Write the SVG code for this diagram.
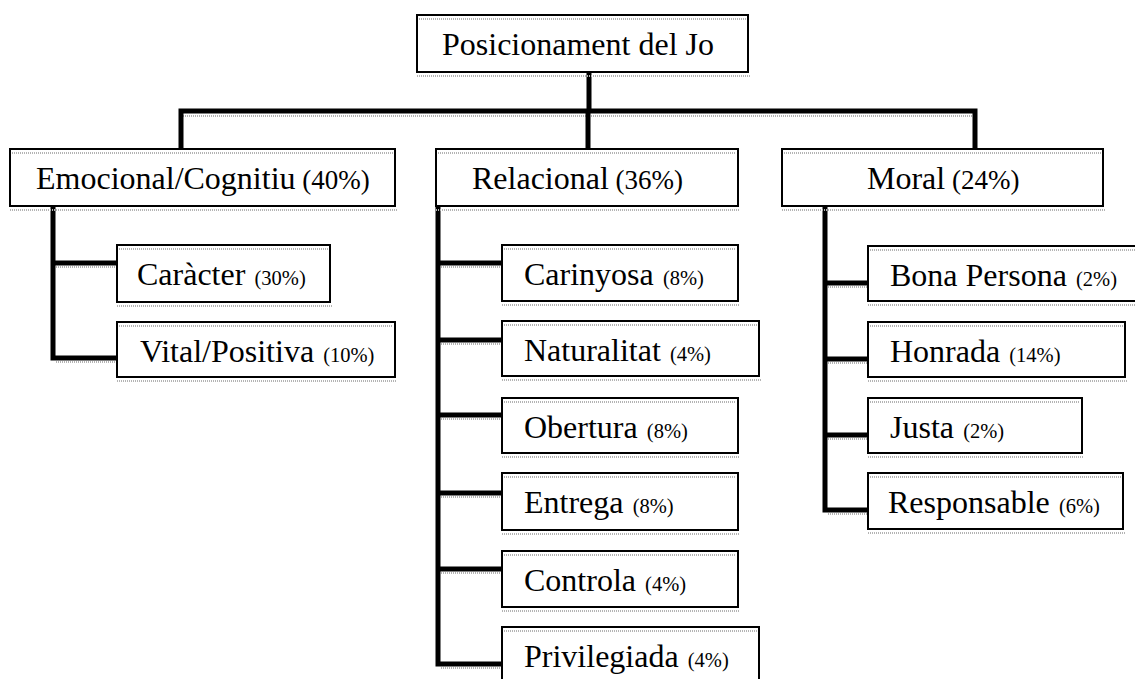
<svg xmlns="http://www.w3.org/2000/svg" width="1135" height="679" viewBox="0 0 1135 679">
<style>
.box{fill:#fff;stroke:#000;stroke-width:2}
.sh{stroke:#b4b4b4;stroke-width:2;stroke-dasharray:1 1;fill:none}
.con{stroke:#000;stroke-width:5;fill:none;stroke-linejoin:miter;stroke-linecap:square}
text{font-family:"Liberation Serif","Times New Roman",serif;font-size:32px;fill:#000}
.p1{font-size:27px}
.p2{font-size:20.5px}
</style>
<rect width="1135" height="679" fill="#fff"/>
<g id="connectors">
<path class="sh" d="M183 116H975M56 267H117M56 362H117M441 267H502M441 344H502M441 419H502M441 497H502M441 573H502M441 668H502M828 287H868M828 363H868M828 439H868M828 514H868"/>
<path class="con" d="M589 72V111M181 149V111H975V149M588 111V150"/>
<path class="con" d="M53 206V358H117M53 263H117"/>
<path class="con" d="M438 205V664H502M438 263H502M438 340H502M438 415H502M438 493H502M438 569H502"/>
<path class="con" d="M825 206V510H868M825 283H868M825 359H868M825 435H868"/>
</g>
<g id="n-root"><rect class="box" x="417" y="15" width="331" height="57"/><path class="sh" d="M419 19H746M417 76H750"/><text x="442" y="55">Posicionament del Jo</text></g>
<g id="n-emocional"><rect class="box" x="10" y="149" width="385" height="57"/><path class="sh" d="M12 153H393M10 210H397"/><text x="36" y="189">Emocional/Cognitiu<tspan class="p1"> (40%)</tspan></text></g>
<g id="n-relacional"><rect class="box" x="436" y="149" width="302" height="57"/><path class="sh" d="M438 153H736M436 210H740"/><text x="472" y="189">Relacional<tspan class="p1"> (36%)</tspan></text></g>
<g id="n-moral"><rect class="box" x="782" y="149" width="321" height="57"/><path class="sh" d="M784 153H1101M782 210H1105"/><text x="867" y="189">Moral<tspan class="p1"> (24%)</tspan></text></g>
<g id="n-caracter"><rect class="box" x="117" y="245" width="213" height="57"/><path class="sh" d="M119 249H328M117 306H332"/><text x="137" y="285">Caràcter<tspan class="p2" dx="4"> (30%)</tspan></text></g>
<g id="n-vital"><rect class="box" x="117" y="322" width="278" height="55"/><path class="sh" d="M119 326H393M117 381H397"/><text x="140" y="362">Vital/Positiva<tspan class="p2" dx="4"> (10%)</tspan></text></g>
<g id="n-carinyosa"><rect class="box" x="502" y="245" width="236" height="56"/><path class="sh" d="M504 249H736M502 305H740"/><text x="524" y="285">Carinyosa<tspan class="p2" dx="4"> (8%)</tspan></text></g>
<g id="n-naturalitat"><rect class="box" x="502" y="321" width="257" height="55"/><path class="sh" d="M504 325H757M502 380H761"/><text x="524" y="361">Naturalitat<tspan class="p2" dx="4"> (4%)</tspan></text></g>
<g id="n-obertura"><rect class="box" x="502" y="398" width="236" height="55"/><path class="sh" d="M504 402H736M502 457H740"/><text x="524" y="438">Obertura<tspan class="p2" dx="4"> (8%)</tspan></text></g>
<g id="n-entrega"><rect class="box" x="502" y="473" width="236" height="57"/><path class="sh" d="M504 477H736M502 534H740"/><text x="524" y="513">Entrega<tspan class="p2" dx="4"> (8%)</tspan></text></g>
<g id="n-controla"><rect class="box" x="502" y="551" width="236" height="56"/><path class="sh" d="M504 555H736M502 611H740"/><text x="524" y="591">Controla<tspan class="p2" dx="4"> (4%)</tspan></text></g>
<g id="n-privilegiada"><rect class="box" x="502" y="627" width="257" height="60"/><path class="sh" d="M504 631H757"/><text x="524" y="667">Privilegiada<tspan class="p2" dx="4"> (4%)</tspan></text></g>
<g id="n-bona"><rect class="box" x="868" y="246" width="280" height="55"/><path class="sh" d="M870 250H1135M868 305H1135"/><text x="890" y="286">Bona Persona<tspan class="p2" dx="4"> (2%)</tspan></text></g>
<g id="n-honrada"><rect class="box" x="868" y="322" width="257" height="55"/><path class="sh" d="M870 326H1123M868 381H1127"/><text x="890" y="362">Honrada<tspan class="p2" dx="4"> (14%)</tspan></text></g>
<g id="n-justa"><rect class="box" x="868" y="398" width="214" height="55"/><path class="sh" d="M870 402H1080M868 457H1084"/><text x="890" y="438">Justa<tspan class="p2" dx="4"> (2%)</tspan></text></g>
<g id="n-responsable"><rect class="box" x="868" y="473" width="255" height="56"/><path class="sh" d="M870 477H1121M868 533H1125"/><text x="888" y="513">Responsable<tspan class="p2" dx="4"> (6%)</tspan></text></g>
</svg>
